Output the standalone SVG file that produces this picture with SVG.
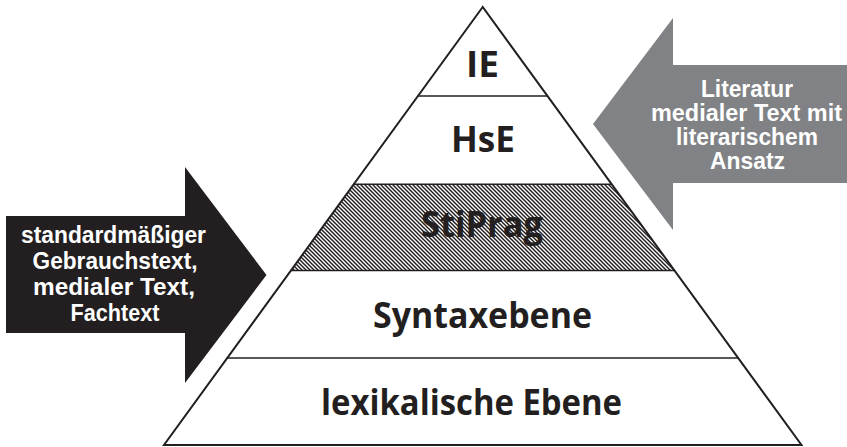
<svg xmlns="http://www.w3.org/2000/svg" width="847" height="447" viewBox="0 0 847 447">
  <style>
    .lvl { font-family: "Open Sans", "Liberation Sans", Arial, sans-serif; font-weight: bold; font-size: 35px; fill: #231f20; text-anchor: middle; }
    .arr { font-family: "Liberation Sans", Arial, sans-serif; font-weight: bold; font-size: 23px; fill: #ffffff; text-anchor: middle; }
    .edge { fill: none; stroke: #231f20; stroke-width: 2; stroke-linejoin: miter; }
    .div { stroke: #231f20; stroke-width: 1.5; }
  </style>
  <defs>
    <pattern id="hatch" patternUnits="userSpaceOnUse" width="4" height="4">
      <rect width="4" height="4" fill="#ffffff"/>
      <path d="M-1,-1 L5,5 M-1,3 L1,5 M3,-1 L5,1" stroke="#231f20" stroke-width="1.45"/>
    </pattern>
  </defs>
  <rect width="847" height="447" fill="#ffffff"/>

  <g id="arrow-left">
    <polygon points="6,216 185,216 185,167 266.5,275 185,383 185,333 6,333" fill="#231f20"/>
    <text class="arr" x="113.5" y="243" textLength="185" lengthAdjust="spacingAndGlyphs">standardmäßiger</text>
    <text class="arr" x="115" y="269" textLength="165" lengthAdjust="spacingAndGlyphs">Gebrauchstext,</text>
    <text class="arr" x="114" y="295" textLength="162" lengthAdjust="spacingAndGlyphs">medialer Text,</text>
    <text class="arr" x="115" y="321" textLength="89" lengthAdjust="spacingAndGlyphs">Fachtext</text>
  </g>

  <g id="arrow-right">
    <polygon points="847,65 673,65 673,18 593,124 673,230 673,183 847,183" fill="#808285"/>
    <text class="arr" x="747" y="97" textLength="92" lengthAdjust="spacingAndGlyphs">Literatur</text>
    <text class="arr" x="746.5" y="121" textLength="191" lengthAdjust="spacingAndGlyphs">medialer Text mit</text>
    <text class="arr" x="747" y="145" textLength="142" lengthAdjust="spacingAndGlyphs">literarischem</text>
    <text class="arr" x="747.5" y="169" textLength="75" lengthAdjust="spacingAndGlyphs">Ansatz</text>
  </g>

  <g id="level-stiprag">
    <polygon points="353.6,184.3 611.8,184.3 674.8,270.5 290.6,270.5" fill="url(#hatch)"/>
    <text class="lvl" x="482" y="237" textLength="122" lengthAdjust="spacingAndGlyphs">StiPrag</text>
  </g>

  <g id="pyramid">
    <polygon class="edge" points="482.7,7 164,445 801.5,445"/>
  </g>

  <g id="connectors">
    <line class="div" x1="417.7" y1="96" x2="547.7" y2="96"/>
    <line class="div" x1="353.6" y1="184.3" x2="611.8" y2="184.3"/>
    <line class="div" x1="290.6" y1="270.5" x2="674.8" y2="270.5"/>
    <line class="div" x1="226.8" y1="358" x2="738.6" y2="358"/>
  </g>

  <g id="level-ie">
    <text class="lvl" x="482.5" y="77" textLength="33" lengthAdjust="spacingAndGlyphs">IE</text>
  </g>
  <g id="level-hse">
    <text class="lvl" x="483" y="152" textLength="64" lengthAdjust="spacingAndGlyphs">HsE</text>
  </g>
  <g id="level-syntax">
    <text class="lvl" x="482.5" y="328" textLength="219" lengthAdjust="spacingAndGlyphs">Syntaxebene</text>
  </g>
  <g id="level-lexikal">
    <text class="lvl" x="471.5" y="415" textLength="301" lengthAdjust="spacingAndGlyphs">lexikalische Ebene</text>
  </g>
</svg>
